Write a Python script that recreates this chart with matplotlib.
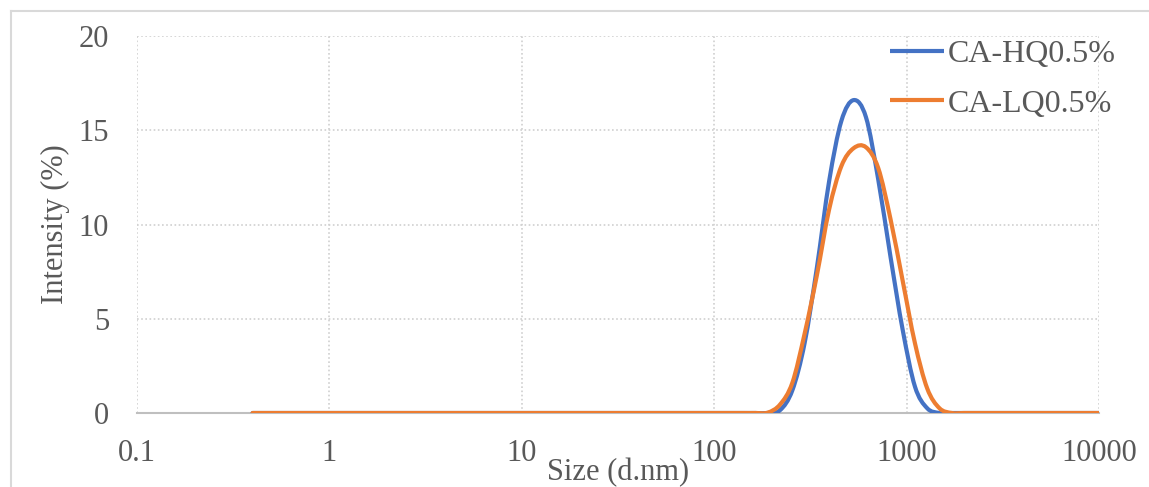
import numpy as np
import matplotlib
matplotlib.use("Agg")
import matplotlib.pyplot as plt
from matplotlib.path import Path
from matplotlib.patches import PathPatch
from matplotlib.lines import Line2D

# ---------------- data ----------------
size_nm = [0.4, 0.4632, 0.5365, 0.6213, 0.7195, 0.8332, 0.9649, 1.117, 1.294, 1.499,
           1.736, 2.01, 2.328, 2.696, 3.122, 3.615, 4.187, 4.849, 5.615, 6.503,
           7.531, 8.721, 10.1, 11.7, 13.54, 15.69, 18.17, 21.04, 24.36, 28.21,
           32.67, 37.84, 43.82, 50.75, 58.77, 68.06, 78.82, 91.28, 105.7, 122.4,
           141.8, 164.2, 190.1, 220.2, 255.0, 295.3, 342.0, 396.1, 458.7, 531.2,
           615.1, 712.4, 825.0, 955.4, 1106, 1281, 1484, 1718, 1990, 2305,
           2669, 3091, 3580, 4145, 4801, 5560, 6439, 7456, 8635, 10000]

ca_hq = [0, 0, 0, 0, 0, 0, 0, 0, 0, 0,
         0, 0, 0, 0, 0, 0, 0, 0, 0, 0,
         0, 0, 0, 0, 0, 0, 0, 0, 0, 0,
         0, 0, 0, 0, 0, 0, 0, 0, 0, 0,
         0, 0, 0, 0.15, 1.2, 3.7, 7.7, 12.3, 15.5, 16.6,
         15.7, 12.4, 8.3, 4.4, 1.4, 0.25, 0, 0, 0, 0,
         0, 0, 0, 0, 0, 0, 0, 0, 0, 0]

ca_lq = [0, 0, 0, 0, 0, 0, 0, 0, 0, 0,
         0, 0, 0, 0, 0, 0, 0, 0, 0, 0,
         0, 0, 0, 0, 0, 0, 0, 0, 0, 0,
         0, 0, 0, 0, 0, 0, 0, 0, 0, 0,
         0, 0, 0.02, 0.45, 1.6, 4.2, 7.3, 10.8, 13.1, 14.05,
         14.1, 13.0, 10.3, 7.0, 3.7, 1.3, 0.25, 0, 0, 0,
         0, 0, 0, 0, 0, 0, 0, 0, 0, 0]

series_names = ["CA-HQ0.5%", "CA-LQ0.5%"]
series_colors = ["#4472C4", "#ED7D31"]
x_ticks = [0.1, 1, 10, 100, 1000, 10000]
x_tick_labels = ["0.1", "1", "10", "100", "1000", "10000"]
y_ticks = [0, 5, 10, 15, 20]
y_tick_labels = ["0", "5", "10", "15", "20"]
x_label = "Size (d.nm)"
y_label = "Intensity (%)"

# ---------------- style ----------------
plt.rcParams["font.family"] = ["Liberation Serif", "DejaVu Serif"]
TXT = "#595959"
FS = 22

W, H = 1149, 487
fig = plt.figure(figsize=(W / 100, H / 100), dpi=100)
left, right, top, bottom = 136.7, 1099, 36, 413
ax = fig.add_axes([left / W, 1 - bottom / H, (right - left) / W, (bottom - top) / H])


def smooth_path(xs, ys):
    """Excel-like smoothed line: Catmull-Rom Bezier segments in log-x space."""
    u = np.log10(np.asarray(xs, float))
    v = np.asarray(ys, float)
    n = len(u)
    verts = [(xs[0], ys[0])]
    codes = [Path.MOVETO]
    for i in range(n - 1):
        i0 = max(i - 1, 0)
        i3 = min(i + 2, n - 1)
        c1u = u[i] + (u[i + 1] - u[i0]) / 6
        c1v = v[i] + (v[i + 1] - v[i0]) / 6
        c2u = u[i + 1] - (u[i3] - u[i]) / 6
        c2v = v[i + 1] - (v[i3] - v[i]) / 6
        verts += [(10 ** c1u, c1v), (10 ** c2u, c2v), (xs[i + 1], ys[i + 1])]
        codes += [Path.CURVE4] * 3
    return Path(verts, codes)


handles = []
for ys, name, col in zip([ca_hq, ca_lq], series_names, series_colors):
    patch = PathPatch(smooth_path(size_nm, ys), facecolor="none", edgecolor=col,
                      lw=3.0, capstyle="round", joinstyle="round", zorder=3)
    ax.add_patch(patch)
    handles.append(Line2D([0], [0], color=col, lw=3.0, solid_capstyle="butt", label=name))

ax.set_xscale("log")
ax.set_xlim(0.1, 10000)
ax.set_ylim(0, 20)
ax.set_xticks(x_ticks)
ax.set_xticklabels(x_tick_labels)
ax.set_yticks(y_ticks)
ax.set_yticklabels(y_tick_labels)
ax.xaxis.set_minor_locator(matplotlib.ticker.NullLocator())

for s in ["top", "right", "left"]:
    ax.spines[s].set_visible(False)
ax.spines["bottom"].set_color("#BFBFBF")
ax.spines["bottom"].set_linewidth(1.5)
ax.spines["bottom"].set_zorder(2)

ax.grid(True, which="major", color="#D0D0D0", linestyle=(0, (1, 1.5)), linewidth=1.2, zorder=0)
ax.set_axisbelow(True)

ax.tick_params(axis="x", length=0, pad=19, labelsize=FS, labelcolor=TXT)
ax.tick_params(axis="y", length=0, pad=20, labelsize=FS, labelcolor=TXT)

ax.set_xlabel(x_label, fontsize=FS, color=TXT)
ax.xaxis.set_label_coords(0.5, -0.158)
ax.xaxis.label.set_va("center")
ax.set_ylabel(y_label, fontsize=FS, color=TXT)
ax.yaxis.set_label_coords(-0.084, 0.5)
ax.yaxis.label.set_va("center")

LFS = 23
leg = ax.legend(handles=handles, loc="upper left",
                bbox_to_anchor=((890 - left) / (right - left), (bottom - 39.5) / (bottom - top)),
                frameon=False, fontsize=LFS, handlelength=1.7, handletextpad=0.12,
                labelspacing=0.64, borderpad=0.0, borderaxespad=0.0)
for t in leg.get_texts():
    t.set_color(TXT)

# chart border (left and top edges visible)
fig.add_artist(Line2D([11 / W, 11 / W], [0, 1 - 11 / H], transform=fig.transFigure,
                      color="#D9D9D9", lw=1.5))
fig.add_artist(Line2D([11 / W, 1], [1 - 11 / H, 1 - 11 / H], transform=fig.transFigure,
                      color="#D9D9D9", lw=1.5))

fig.savefig("out.png", dpi=100, facecolor="white")
